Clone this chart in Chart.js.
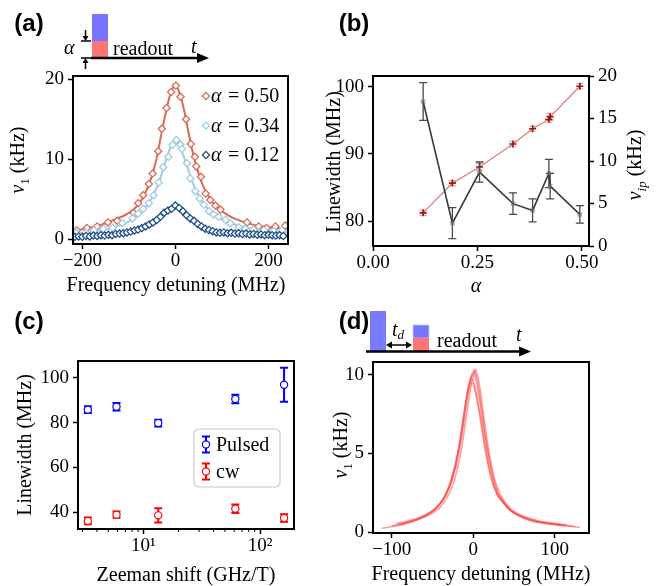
<!DOCTYPE html>
<html>
<head>
<meta charset="utf-8">
<script src="https://cdn.jsdelivr.net/npm/chart.js@4.4.0/dist/chart.umd.min.js"></script>
<style>
  html, body { margin: 0; padding: 0; background: #fff; }
  #page { position: relative; width: 658px; height: 586px; overflow: hidden; }
  canvas { position: absolute; left: 0; top: 0; }
  .lbl { position: absolute; font-family: 'Liberation Sans', Arial, sans-serif; font-weight: bold; font-size: 24px; transform: translate(-50%, -50%); white-space: nowrap; }
  .ttl { position: absolute; font-family: 'Liberation Serif', 'Times New Roman', serif; font-size: 20px; transform: translate(-50%, -50%); white-space: nowrap; color: #000; }
  .rot { transform: translate(-50%, -50%) rotate(-90deg); }
  svg { position: absolute; left: 0; top: 0; }
  svg text { font-family: 'Liberation Serif', 'Times New Roman', serif; font-size: 20px; }
</style>
</head>
<body>
<div id="page">
  <canvas id="ca" width="658" height="586"></canvas>
  <canvas id="cb" width="658" height="586"></canvas>
  <canvas id="cc" width="658" height="586"></canvas>
  <canvas id="cd" width="658" height="586"></canvas>

  <svg width="658" height="586" viewBox="0 0 658 586">
    <!-- pulse sequence, panel (a) -->
    <rect x="92" y="14" width="16" height="27" fill="#7474ff"/>
    <rect x="92" y="41" width="16" height="17" fill="#ff7474"/>
    <line x1="91" y1="58" x2="200" y2="58" stroke="#000" stroke-width="2.5"/>
    <polygon points="197,53 209,58 197,63" fill="#000"/>
    <line x1="81" y1="41" x2="91" y2="41" stroke="#000" stroke-width="1.5"/>
    <line x1="81" y1="58" x2="91" y2="58" stroke="#000" stroke-width="1.5"/>
    <line x1="85.5" y1="30" x2="85.5" y2="37" stroke="#000" stroke-width="1.5"/>
    <polygon points="82.5,36 88.5,36 85.5,41" fill="#000"/>
    <line x1="85.5" y1="62" x2="85.5" y2="69" stroke="#000" stroke-width="1.5"/>
    <polygon points="82.5,63 88.5,63 85.5,58" fill="#000"/>
    <text x="64" y="54" font-style="italic">α</text>
    <text x="113" y="54.5">readout</text>
    <text x="191" y="53" font-style="italic">t</text>

    <!-- pulse sequence, panel (d) -->
    <rect x="370" y="311" width="16" height="40" fill="#7a7aff"/>
    <rect x="413" y="325" width="16" height="13" fill="#7474ff" stroke="#c8c8ff" stroke-width="0.8"/>
    <rect x="413" y="338" width="16" height="14" fill="#ff7474"/>
    <line x1="366" y1="351.5" x2="522" y2="351.5" stroke="#000" stroke-width="2.5"/>
    <polygon points="519,346.5 531,351.5 519,356.5" fill="#000"/>
    <line x1="391" y1="345" x2="407" y2="345" stroke="#000" stroke-width="1.5"/>
    <polygon points="392,341.5 386,345 392,348.5" fill="#000"/>
    <polygon points="406,341.5 412,345 406,348.5" fill="#000"/>
    <text x="392" y="336" font-style="italic">t<tspan font-size="13" dy="3">d</tspan></text>
    <text x="437" y="346.5">readout</text>
    <text x="516" y="341" font-style="italic">t</text>
  </svg>

  <div class="lbl" style="left:29px; top:23px;">(a)</div>
  <div class="lbl" style="left:354px; top:23px;">(b)</div>
  <div class="lbl" style="left:29px; top:321px;">(c)</div>
  <div class="lbl" style="left:354px; top:321px;">(d)</div>

  <div class="ttl rot" style="left:19px; top:160px;"><i>ν</i><sub style="font-size:13px">1</sub> (kHz)</div>
  <div class="ttl" style="left:176px; top:284px;">Frequency detuning (MHz)</div>
  <div class="ttl rot" style="left:333px; top:162px;">Linewidth (MHz)</div>
  <div class="ttl rot" style="left:636px; top:165px;"><i>ν</i><sub style="font-size:13px"><i>ip</i></sub> (kHz)</div>
  <div class="ttl" style="left:476px; top:285px;"><i>α</i></div>
  <div class="ttl rot" style="left:24px; top:445px;">Linewidth (MHz)</div>
  <div class="ttl" style="left:186px; top:574px;">Zeeman shift (GHz/T)</div>
  <div class="ttl rot" style="left:342px; top:445px;"><i>ν</i><sub style="font-size:13px">1</sub> (kHz)</div>
  <div class="ttl" style="left:481px; top:573px;">Frequency detuning (MHz)</div>
</div>

<script>
// ---------- Panel (a): photon rate vs. detuning for three alpha values ----------
const aAlphaLabels = ['0.50', '0.34', '0.12'];
const aFreqRed = [-212,-190,-168,-145,-125,-90,-80,-69,-57,-49,-37,-29,-19,-9,1,11,23,33,42,45,55,65,75,86,97,154,179,196,215,236];
const aSigRed  = [1.1,1.4,1.6,2.1,2.3,3.3,4.5,5.5,6.9,8.2,11.0,13.8,16.4,18.4,19.2,17.8,15.0,11.9,10.3,9.1,7.8,5.7,4.9,4.2,3.7,2.1,1.6,1.4,1.6,1.7];
const aFreqLb = [-214,-193,-175,-155,-135,-114,-92,-80,-69,-57,-47,-36,-26,-15,-6,2,11,14,25,32,43,52,61,72,82,93,108,118,136,150,168,190,211,229];
const aSigLb  = [0.8,0.8,1.1,1.3,1.4,2.0,2.6,3.2,3.8,4.5,5.5,7.1,9.0,10.3,11.8,12.4,11.8,11.3,9.5,7.6,6.0,5.1,4.3,3.5,3.1,2.8,2.4,2.0,1.5,1.3,1.2,1.1,1.0,1.1];
const aFreqDb = [-216,-208,-200,-192,-184,-176,-168,-160,-152,-144,-136,-128,-120,-112,-104,-96,-88,-80,-72,-64,-56,-48,-40,-32,-24,-16,-8,0,8,16,24,32,40,48,56,64,72,80,88,96,104,112,120,128,136,144,152,160,168,176,184,192,200,208,216,224,232];
const aSigDb  = [0.3,0.35,0.3,0.4,0.35,0.45,0.4,0.5,0.45,0.55,0.5,0.65,0.7,0.75,0.85,0.95,1.1,1.2,1.4,1.6,1.85,2.1,2.4,2.8,3.3,3.6,3.8,4.2,3.9,3.5,3.0,2.6,2.3,1.9,1.6,1.3,1.15,1.0,0.85,0.8,0.85,0.75,0.8,0.7,0.75,0.65,0.7,0.6,0.65,0.55,0.6,0.5,0.55,0.5,0.45,0.5,0.4];
// fitted profiles
const aFitXRed = [-220,-200,-175,-150,-125,-110,-90,-75,-60,-50,-40,-30,-20,-10,0,10,20,30,40,50,60,75,90,110,130,150,175,200,242];
const aFitYRed = [1.0,1.25,1.55,2.0,2.6,2.95,3.7,4.7,6.4,8.0,10.2,13.2,16.0,18.3,19.2,18.1,15.8,12.8,10.2,8.2,6.6,5.0,4.0,3.1,2.5,2.1,1.7,1.5,1.2];
const aFitXLb = [-220,-200,-175,-150,-125,-100,-80,-60,-45,-35,-25,-15,-5,0,5,15,25,35,45,60,80,100,125,150,175,200,242];
const aFitYLb = [0.65,0.78,0.95,1.2,1.6,2.2,3.0,4.3,5.8,7.2,9.0,10.8,12.0,12.2,12.0,10.8,9.2,7.4,6.0,4.5,3.2,2.5,1.9,1.5,1.25,1.05,0.85];
const aFitXDb = [-220,-175,-130,-100,-80,-60,-40,-25,-10,0,10,25,40,60,80,100,150,200,242];
const aFitYDb = [0.3,0.45,0.7,0.95,1.3,1.9,2.6,3.2,3.9,4.15,3.9,3.1,2.4,1.6,1.15,0.9,0.65,0.55,0.45];
const aTicksX = [-200, 0, 200];
const aTicksY = [0, 10, 20];

// ---------- Panel (b): linewidth and nu_ip vs alpha ----------
const bAlpha    = [0.12, 0.19, 0.255, 0.335, 0.382, 0.421, 0.424, 0.495];
const bWidth    = [97.8, 79.7, 87.3, 82.6, 81.6, 87.1, 85.2, 81.0];
const bWidthErr = [2.8, 2.3, 1.5, 1.6, 1.7, 2.1, 1.9, 1.3];
const bNuIp     = [3.9, 7.4, 9.3, 12.0, 13.8, 14.9, 15.2, 18.8];
const bNuIpErr  = [0.3, 0.3, 0.4, 0.3, 0.3, 0.4, 0.4, 0.3];
const bTicksX = [0, 0.25, 0.5];
const bTicksY = [80, 90, 100];
const bTicksY1 = [0, 5, 10, 15, 20];

// ---------- Panel (c): linewidth vs Zeeman shift ----------
const cZeeman     = [3.34, 5.88, 13.4, 61.4, 160.7];
const cPulsed     = [85.8, 87.1, 79.8, 90.6, 97.0];
const cPulsedErr  = [1.5, 1.7, 1.5, 1.9, 7.6];
const cCw         = [36.0, 38.8, 38.5, 41.5, 37.3];
const cCwErr      = [1.5, 1.4, 3.2, 1.9, 1.7];
const cSeries = ['Pulsed', 'cw'];
const cTicksX = [10, 100];
const cTickLabelsX = ['10¹', '10²'];
const cMinorX = [3,4,5,6,7,8,9,20,30,40,50,60,70,80,90];
const cTicksY = [40, 60, 80, 100];

// ---------- Panel (d): repeated spectra after delay t_d ----------
const dFreqA = [-112,-95,-80,-68,-58,-50,-43,-37,-31,-26,-21,-16,-12,-8,-5,-2,1,4,7,11,15,20,25,30,36,42,50,60,72,88,105,118,131];
const dSigA  = [0.25,0.4,0.6,0.8,1.05,1.3,1.65,2.05,2.6,3.3,4.2,5.5,6.8,8.3,9.3,10.0,10.3,9.9,9.0,7.6,6.1,4.6,3.4,2.5,2.0,1.55,1.2,0.95,0.7,0.55,0.5,0.4,0.3];
const dFreqB = [-95,-82,-70,-60,-52,-45,-38,-32,-27,-22,-17,-13,-9,-6,-3,0,3,6,10,14,19,24,30,36,42,48,56,66,80,95,108,115];
const dSigB  = [0.55,0.7,0.85,1.05,1.3,1.6,2.0,2.6,3.3,4.3,5.6,7.0,8.4,9.3,9.8,9.6,9.0,8.2,7.0,5.6,4.2,3.1,2.3,1.9,1.55,1.3,1.1,0.9,0.7,0.6,0.5,0.45];
const dFreqC = [-92,-78,-66,-56,-48,-41,-35,-29,-24,-19,-15,-11,-7,-4,-1,1,4,8,12,16,21,26,32,38,44,52,62,75,90,103,112];
const dSigC  = [0.5,0.7,0.9,1.15,1.4,1.8,2.3,3.0,3.9,5.0,6.2,7.6,8.9,9.6,10.0,10.1,9.5,8.3,6.9,5.5,4.1,3.0,2.2,1.8,1.45,1.15,0.9,0.7,0.55,0.45,0.4];
const dFreqD = [-90,-76,-64,-54,-46,-39,-33,-27,-22,-17,-13,-9,-6,-3,0,3,7,11,15,20,25,30,35,40,46,54,64,78,93,108];
const dSigD  = [0.45,0.65,0.9,1.2,1.5,1.9,2.4,3.2,4.1,5.4,6.8,8.2,9.0,9.5,9.4,8.8,7.7,6.4,5.1,3.8,2.9,2.3,2.05,1.75,1.4,1.1,0.85,0.65,0.55,0.45];
const dFreqE = [-100,-85,-72,-60,-50,-42,-35,-29,-23,-18,-14,-10,-6,-2,1,3,6,9,13,17,22,27,33,40,48,58,70,85,100,115,125];
const dSigE  = [0.4,0.55,0.75,0.95,1.2,1.5,1.95,2.5,3.3,4.3,5.4,6.8,8.2,9.5,10.1,10.3,9.8,8.9,7.3,5.8,4.3,3.2,2.4,1.8,1.4,1.1,0.85,0.65,0.5,0.4,0.35];
const dTicksX = [-100, 0, 100];
const dTicksY = [0, 5, 10];

// ---------- shared helpers ----------
const SERIF = "'Liberation Serif', 'Times New Roman', serif";
Chart.defaults.font.family = SERIF;
Chart.defaults.font.size = 19;
Chart.defaults.color = '#000';
Chart.defaults.animation = false;
Chart.defaults.responsive = false;
Chart.defaults.plugins.legend.display = false;
Chart.defaults.plugins.tooltip.enabled = false;

const pts = (xs, ys) => xs.map((x, i) => ({ x, y: ys[i] }));
const fmtNum = v => (v < 0 ? '\u2212' + Math.abs(v) : String(v));

function axis(extra, size, isX, tickList, fmt) {
  return Object.assign({
    grid: { display: true, drawOnChartArea: false, drawTicks: true, tickLength: 5, tickWidth: 1.5, tickColor: '#000' },
    border: { display: false },
    ticks: { color: '#000', padding: isX ? 1 : 4, font: { size: 19, family: SERIF }, maxRotation: 0, autoSkip: false,
              callback: fmt || (v => fmtNum(v)) },
    afterBuildTicks: s => { s.ticks = tickList.map(v => ({ value: v })); },
    afterFit: s => { if (isX) s.height = size; else s.width = size; }
  }, extra);
}

// draws datasets in listed order (first = bottom)
function ordered(list) { return list.map((d, i) => Object.assign(d, { order: list.length - i })); }

const framePlugin = {
  id: 'frame',
  afterDatasetsDraw(chart) {
    const a = chart.chartArea, ctx = chart.ctx;
    ctx.save(); ctx.strokeStyle = '#000'; ctx.lineWidth = 2;
    ctx.strokeRect(a.left, a.top, a.right - a.left, a.bottom - a.top);
    ctx.restore();
  }
};

const errorBarPlugin = {
  id: 'errorBars',
  beforeDatasetDraw(chart, args) {
    const ds = chart.data.datasets[args.index];
    const eb = ds.errorBars; if (!eb) return;
    const xs = chart.scales[args.meta.xAxisID], ys = chart.scales[args.meta.yAxisID];
    const ctx = chart.ctx;
    ctx.save(); ctx.strokeStyle = eb.color; ctx.lineWidth = eb.width;
    ds.data.forEach((p, i) => {
      const e = eb.values[i];
      const x = xs.getPixelForValue(p.x);
      const y1 = ys.getPixelForValue(p.y - e), y2 = ys.getPixelForValue(p.y + e);
      ctx.beginPath();
      ctx.moveTo(x, y1); ctx.lineTo(x, y2);
      ctx.moveTo(x - eb.cap, y1); ctx.lineTo(x + eb.cap, y1);
      ctx.moveTo(x - eb.cap, y2); ctx.lineTo(x + eb.cap, y2);
      ctx.stroke();
    });
    ctx.restore();
  }
};

// ---------- chart (a) ----------
const aColors = ['#da6a55', '#a2cbe6', '#1f4d87'];
function aSeries(fx, fy, mx, my, col) {
  return [
    { data: pts(fx, fy), showLine: true, borderColor: col, borderWidth: 2, pointRadius: 0, cubicInterpolationMode: 'monotone' },
    { data: pts(mx, my), showLine: false, pointStyle: 'rectRot', pointRadius: 3.6, pointBorderWidth: 1.3,
      pointBorderColor: col, pointBackgroundColor: '#fff' }
  ];
}
const aLegendPlugin = {
  id: 'aLegend',
  afterDatasetsDraw(chart) {
    const ctx = chart.ctx, a = chart.chartArea;
    aAlphaLabels.forEach((lab, i) => {
      const y = a.top + 20 + i * 29.5, x = a.left + 133;
      ctx.save();
      ctx.strokeStyle = aColors[i]; ctx.fillStyle = '#fff'; ctx.lineWidth = 1.3;
      ctx.beginPath(); ctx.moveTo(x, y - 3.6); ctx.lineTo(x + 3.6, y); ctx.lineTo(x, y + 3.6); ctx.lineTo(x - 3.6, y); ctx.closePath();
      ctx.fill(); ctx.stroke();
      ctx.fillStyle = '#000'; ctx.textBaseline = 'middle';
      ctx.font = 'italic 20px ' + SERIF; ctx.fillText('α', x + 5, y + 1);
      ctx.font = '20px ' + SERIF; ctx.fillText(' = ' + lab, x + 17, y + 1);
      ctx.restore();
    });
  }
};
new Chart(document.getElementById('ca'), {
  type: 'scatter',
  data: { datasets: ordered([
    ...aSeries(aFitXRed, aFitYRed, aFreqRed, aSigRed, aColors[0]),
    ...aSeries(aFitXLb, aFitYLb, aFreqLb, aSigLb, aColors[1]),
    ...aSeries(aFitXDb, aFitYDb, aFreqDb, aSigDb, aColors[2])
  ]) },
  options: {
    layout: { autoPadding: false, padding: { left: 33, top: 76, right: 370, bottom: 312 } },
    scales: {
      x: axis({ type: 'linear', min: -220, max: 242 }, 30, true, aTicksX),
      y: axis({ type: 'linear', min: -0.6, max: 20.4 }, 40, false, aTicksY)
    }
  },
  plugins: [framePlugin, aLegendPlugin]
});

// ---------- chart (b) ----------
new Chart(document.getElementById('cb'), {
  type: 'scatter',
  data: { datasets: ordered([
    { data: pts(bAlpha, bNuIp), yAxisID: 'y1', showLine: true, borderColor: 'rgba(200,90,90,0.75)', borderWidth: 1.3,
      pointStyle: 'cross', pointRadius: 3.5, pointBorderWidth: 1.6, pointBorderColor: '#a01010',
      errorBars: { values: bNuIpErr, color: 'rgba(215,110,110,0.6)', width: 1.2, cap: 3.5 } },
    { data: pts(bAlpha, bWidth), yAxisID: 'y', showLine: true, borderColor: '#3a3a3a', borderWidth: 1.6,
      pointStyle: 'rect', pointRadius: 3.2, pointBorderWidth: 0, pointBackgroundColor: 'rgba(110,110,110,0.55)',
      errorBars: { values: bWidthErr, color: '#4a4a4a', width: 1.3, cap: 4 } }
  ]) },
  options: {
    layout: { autoPadding: false, padding: { left: 333, top: 76, right: 29, bottom: 310 } },
    scales: {
      x: axis({ type: 'linear', min: 0, max: 0.517 }, 30, true, bTicksX, v => v.toFixed(2)),
      y: axis({ type: 'linear', position: 'left', min: 76.3, max: 101.6 }, 40, false, bTicksY),
      y1: axis({ type: 'linear', position: 'right', min: 0, max: 20 }, 40, false, bTicksY1)
    }
  },
  plugins: [framePlugin, errorBarPlugin]
});

// ---------- chart (c) ----------
const cColors = ['#0000ff', '#ff0000'];
const cMinorPlugin = {
  id: 'cMinor',
  afterDatasetsDraw(chart) {
    const ctx = chart.ctx, xs = chart.scales.x, b = chart.chartArea.bottom;
    ctx.save(); ctx.strokeStyle = '#000'; ctx.lineWidth = 1;
    cMinorX.forEach(v => {
      if (v < xs.min || v > xs.max) return;
      const x = xs.getPixelForValue(v);
      ctx.beginPath(); ctx.moveTo(x, b); ctx.lineTo(x, b + 3); ctx.stroke();
    });
    ctx.restore();
  }
};
const cLegendPlugin = {
  id: 'cLegend',
  afterDraw(chart) {
    const ctx = chart.ctx;
    const bx = 194, by = 429, bw = 86, bh = 58, r = 5;
    ctx.save();
    ctx.fillStyle = 'rgba(255,255,255,0.8)'; ctx.strokeStyle = '#c8c8c8'; ctx.lineWidth = 1.2;
    ctx.beginPath(); ctx.roundRect(bx, by, bw, bh, r); ctx.fill(); ctx.stroke();
    cSeries.forEach((lab, i) => {
      const y = 444.5 + i * 27, x = 206;
      ctx.strokeStyle = cColors[i]; ctx.lineWidth = 2;
      ctx.beginPath();
      ctx.moveTo(x, y - 8); ctx.lineTo(x, y + 8);
      ctx.moveTo(x - 4, y - 8); ctx.lineTo(x + 4, y - 8);
      ctx.moveTo(x - 4, y + 8); ctx.lineTo(x + 4, y + 8);
      ctx.stroke();
      ctx.fillStyle = '#fff'; ctx.lineWidth = 1.2;
      ctx.beginPath(); ctx.arc(x, y, 3.6, 0, Math.PI * 2); ctx.fill(); ctx.stroke();
      ctx.fillStyle = '#000'; ctx.font = '20px ' + SERIF; ctx.textBaseline = 'middle';
      ctx.fillText(lab, 216, y + 1);
    });
    ctx.restore();
  }
};
new Chart(document.getElementById('cc'), {
  type: 'scatter',
  data: { datasets: ordered([
    { data: pts(cZeeman, cPulsed), pointStyle: 'circle', pointRadius: 3.6, pointBorderWidth: 1.2,
      pointBorderColor: cColors[0], pointBackgroundColor: '#fff',
      errorBars: { values: cPulsedErr, color: cColors[0], width: 2, cap: 4 } },
    { data: pts(cZeeman, cCw), pointStyle: 'circle', pointRadius: 3.6, pointBorderWidth: 1.2,
      pointBorderColor: cColors[1], pointBackgroundColor: '#fff',
      errorBars: { values: cCwErr, color: cColors[1], width: 2, cap: 4 } }
  ]) },
  options: {
    layout: { autoPadding: false, padding: { left: 33, top: 361, right: 364, bottom: 22 } },
    scales: {
      x: axis({ type: 'logarithmic', min: 2.75, max: 195.5 }, 35, true, cTicksX,
              v => cTickLabelsX[cTicksX.indexOf(v)]),
      y: axis({ type: 'linear', min: 32.4, max: 107.6 }, 45, false, cTicksY)
    }
  },
  plugins: [framePlugin, errorBarPlugin, cMinorPlugin, cLegendPlugin]
});

// ---------- chart (d) ----------
const dRuns = [[dFreqA, dSigA], [dFreqB, dSigB], [dFreqC, dSigC], [dFreqD, dSigD], [dFreqE, dSigE]];
new Chart(document.getElementById('cd'), {
  type: 'scatter',
  data: { datasets: ordered(dRuns.map(([fx, fy]) => ({
    data: pts(fx, fy), showLine: true, borderColor: 'rgba(250,70,70,0.5)', borderWidth: 1.6,
    pointRadius: 0, tension: 0
  }))) },
  options: {
    layout: { autoPadding: false, padding: { left: 333, top: 362, right: 69, bottom: 23 } },
    scales: {
      x: axis({ type: 'linear', min: -123, max: 142 }, 30, true, dTicksX),
      y: axis({ type: 'linear', min: -0.05, max: 10.8 }, 40, false, dTicksY)
    }
  },
  plugins: [framePlugin]
});
</script>
</body>
</html>
